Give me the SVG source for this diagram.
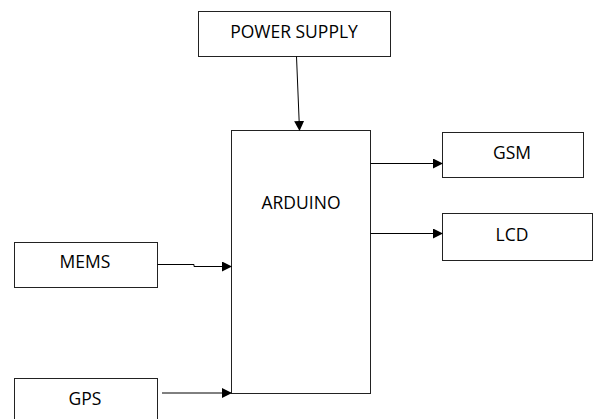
<svg xmlns="http://www.w3.org/2000/svg" width="593" height="419" viewBox="0 0 593 419">
<defs>
<style>
.box{fill:#fff;stroke:#222;stroke-width:1}
.lbl{font-family:"Open Sans","Liberation Sans",sans-serif;font-size:17.5px;fill:#000;text-anchor:middle}
.con{fill:none;stroke:#000;stroke-width:1}
</style>
<marker id="ah" markerWidth="10" markerHeight="10" refX="9" refY="5" orient="auto" markerUnits="userSpaceOnUse">
<path d="M0,0 L10,5 L0,10 Z" fill="#000"/>
</marker>
</defs>
<rect width="593" height="419" fill="#fff"/>
<g id="power"><rect class="box" x="198.5" y="11.5" width="192" height="45"/><text class="lbl" x="294" y="38">POWER SUPPLY</text></g>
<g id="arduino"><rect class="box" x="231.5" y="130.5" width="139" height="263"/><text class="lbl" x="301" y="209">ARDUINO</text></g>
<g id="gsm"><rect class="box" x="442.5" y="132.5" width="141" height="45"/><text class="lbl" x="512" y="159">GSM</text></g>
<g id="lcd"><rect class="box" x="442.5" y="213.5" width="150" height="47"/><text class="lbl" x="512" y="241">LCD</text></g>
<g id="mems"><rect class="box" x="14.5" y="242.5" width="143" height="45"/><text class="lbl" x="85" y="268">MEMS</text></g>
<g id="gps"><rect class="box" x="14.5" y="378.5" width="143" height="45"/><text class="lbl" x="85" y="405">GPS</text></g>
<g id="connectors">
<path class="con" d="M296.5,56.5 L299.5,130" marker-end="url(#ah)"/>
<path class="con" d="M370.5,163.5 L442,163.5" marker-end="url(#ah)"/>
<path class="con" d="M370.5,233.5 L442,233.5" marker-end="url(#ah)"/>
<path class="con" d="M157.5,264.5 L194,264.5 L194,266.5 L231,266.5" marker-end="url(#ah)"/>
<path class="con" d="M162,393 L231,393" marker-end="url(#ah)"/>
</g>
</svg>
